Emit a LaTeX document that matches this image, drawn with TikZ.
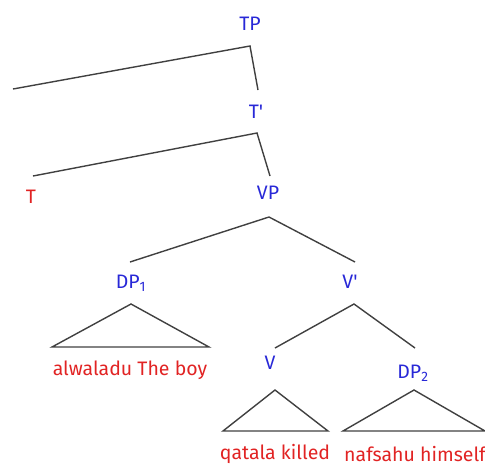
\documentclass[tikz,border=0pt]{standalone}
\usepackage{fontspec}
\setmainfont{Fira Sans}
\begin{document}
\begin{tikzpicture}[x=1pt,y=-1pt,
  cat/.style={text={rgb,255:red,40;green,40;blue,215},font=\fontsize{19.5}{20}\selectfont,inner sep=0pt},
  lex/.style={text={rgb,255:red,225;green,35;blue,35},font=\fontsize{19.5}{20}\selectfont,inner sep=0pt},
  br/.style={draw=black!75,line width=1.4pt}]
\useasboundingbox (0,0) rectangle (485,467);
\node[cat] (TP) at (250,24) {TP};
\node[cat] (Tb) at (256,112) {T\textquotesingle};
\node[lex] (T) at (31,197) {T};
\node[cat] (VP) at (268,193) {VP};
\node[cat] (DP1) at (131,283) {DP\textsubscript{1}};
\node[cat] (Vb) at (350,282) {V\textquotesingle};
\node[cat] (V) at (270,363) {V};
\node[cat] (DP2) at (413,373) {DP\textsubscript{2}};
\node[lex] (w1) at (130,370) {alwaladu The boy};
\node[lex] (w2) at (275,454) {qatala killed};
\node[lex] (w3) at (415,454) {nafsahu himself};
\coordinate (TPb) at (250,46);
\coordinate (left) at (13,89);
\coordinate (Tbt) at (258,90);
\coordinate (Tbb) at (257,133);
\coordinate (Tt) at (33,176);
\coordinate (VPt) at (270,176);
\coordinate (VPb) at (269,217);
\coordinate (DP1t) at (130,262);
\coordinate (Vbt) at (355,262);
\coordinate (Vbb) at (354,304);
\coordinate (Vt) at (275,348);
\coordinate (DP2t) at (415,348);
\draw[br] (left) -- (TPb) -- (Tbt);
\draw[br] (Tt) -- (Tbb) -- (VPt);
\draw[br] (DP1t) -- (VPb) -- (Vbt);
\draw[br] (Vt) -- (Vbb) -- (DP2t);
\draw[br] (131,304) -- (52,347) -- (209,347) -- cycle;
\draw[br] (275,390) -- (223,431) -- (328,431) -- cycle;
\draw[br] (414,390) -- (343,431) -- (485,431) -- cycle;
\end{tikzpicture}
\end{document}
